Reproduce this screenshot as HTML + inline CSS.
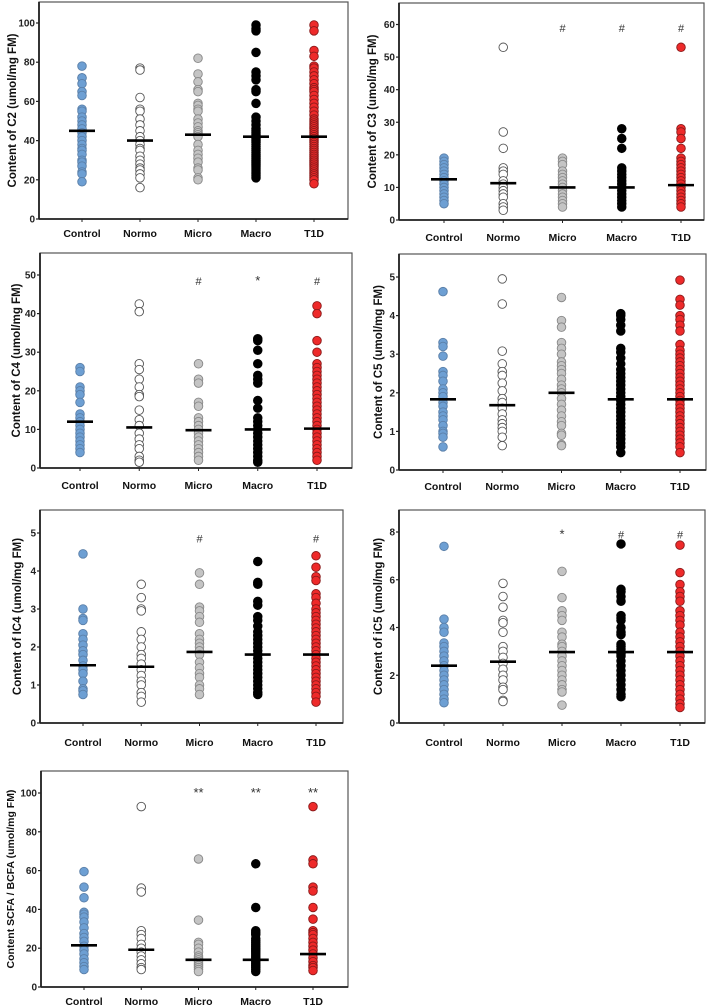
<!DOCTYPE html>
<html><head><meta charset="utf-8">
<style>
html,body{margin:0;padding:0;background:#fff;}
svg{display:block;font-family:"Liberation Sans",Arial,sans-serif;}
</style></head>
<body>
<svg id="fig" width="708" height="1006" viewBox="0 0 708 1006"></svg>
<script>
const categories = ["Control","Normo","Micro","Macro","T1D"];

const c2Values = [
 [78,72,72,69,65,63,56,55,52,50,48,46,44,42,40,38,36,35,33,30,29,27,24,23,19],
 [77,76,62,56,55,51,48,45,42,40,38,36,35,32,30,28,26,25,23,21,16],
 [82,74,70,66,65,59,58,56,55,51,49,47,45,44,43,42,38,35,33,31,29,26,25,21,20],
 [99,97,96,85,75,73,71,66,65,59,52,50,48,46,45,44,43,42,41,40,39,38,37,36,35,34,33,32,31,30,29,28,27,26,25,24,23,22,21],
 [99,96,86,83,78,77,75,73,71,69,67,66,65,63,61,59,57,55,53,51,50,49,48,47,46,45,44,43,42,41,40,39,38,37,36,35,34,33,32,31,30,29,28,27,26,25,24,23,22,21,20,18]];
const c2Medians = [45,40,43,42,42];
const c2Sig = ["","","","",""];

const c3Values = [
 [19,18,17,16,15,14,13,12,11,10,9,8,7,6,5],
 [53,27,22,16,15,14,12,11,10,9,8,7,5,4,3],
 [19,18,17,15,14,13,12,11,10,9,8,7,6,5,4],
 [28,25,22,16,15,14,13,12,11,10,9,8,7,6,5,4],
 [53,28,27,25,22,19,18,17,16,15,14,13,12,11,10,9,8,7,6,5,4]];
const c3Medians = [12.5,11.3,10,10,10.7];
const c3Sig = ["","","#","#","#"];

const c4Values = [
 [26,25,21,20,19,17,14,13,12,11,10,9,8,7,6,5,4],
 [42.5,40.5,27,25.5,23,21,19,18.5,15,12.5,11,9,7.5,6,5,3,2,1.5],
 [27,23,22,17,16,13,12,11,10,9,8,7,6,5,4,3,2],
 [33.5,33,30.5,27,24,23,22,17.5,15.5,13,12,11,10,9,8,7,6,5,4,3,2,1.5],
 [42,40,33,30,27,26,25,24,23,22,21,20,19,18,17,16,15,14,13,12,11,10,9,8,7,6,5,4,3,2]];
const c4Medians = [12,10.5,9.8,10,10.2];
const c4Sig = ["","","#","*","#"];

const c5Values = [
 [4.62,3.3,3.2,2.95,2.55,2.45,2.3,2.1,2.0,1.9,1.75,1.65,1.5,1.4,1.3,1.15,1.0,0.95,0.85,0.6],
 [4.95,4.3,3.08,2.75,2.55,2.45,2.25,2.05,1.85,1.75,1.6,1.45,1.3,1.2,1.1,1.0,0.85,0.63],
 [4.47,3.87,3.7,3.3,3.15,3.0,2.8,2.7,2.6,2.5,2.35,2.2,2.1,2.0,1.85,1.7,1.55,1.4,1.25,1.15,0.95,0.9,0.66,0.63],
 [4.05,4.0,3.9,3.75,3.6,3.15,3.05,2.9,2.75,2.6,2.5,2.4,2.3,2.2,2.1,2.0,1.9,1.8,1.7,1.6,1.5,1.4,1.3,1.2,1.1,1.0,0.9,0.8,0.7,0.6,0.45],
 [4.92,4.42,4.27,4.0,3.9,3.75,3.6,3.25,3.1,3.0,2.9,2.8,2.7,2.6,2.5,2.4,2.3,2.2,2.1,2.0,1.9,1.8,1.7,1.6,1.5,1.4,1.3,1.2,1.1,1.0,0.9,0.8,0.7,0.6,0.45]];
const c5Medians = [1.83,1.68,2.0,1.83,1.83];
const c5Sig = ["","","","",""];

const ic4Values = [
 [4.45,3.0,2.75,2.7,2.35,2.2,2.05,1.9,1.8,1.65,1.5,1.4,1.3,1.1,0.9,0.85,0.75],
 [3.65,3.3,3.0,2.95,2.4,2.2,2.0,1.8,1.7,1.55,1.4,1.25,1.1,1.0,0.8,0.7,0.55],
 [3.95,3.65,3.05,2.95,2.8,2.65,2.35,2.2,2.1,2.0,1.9,1.8,1.6,1.45,1.3,1.2,1.0,0.9,0.75],
 [4.25,3.7,3.65,3.2,3.1,2.8,2.7,2.55,2.4,2.3,2.2,2.1,2.0,1.9,1.8,1.7,1.6,1.5,1.4,1.3,1.2,1.1,1.0,0.9,0.8,0.75],
 [4.4,4.1,3.85,3.75,3.4,3.3,3.15,3.0,2.9,2.8,2.7,2.6,2.5,2.4,2.3,2.2,2.1,2.0,1.9,1.8,1.7,1.6,1.5,1.4,1.3,1.2,1.1,1.0,0.9,0.8,0.7,0.55]];
const ic4Medians = [1.52,1.48,1.87,1.8,1.8];
const ic4Sig = ["","","#","","#"];

const ic5Values = [
 [7.4,4.35,4.0,3.8,3.35,3.2,3.0,2.8,2.6,2.4,2.2,2.0,1.8,1.6,1.4,1.2,1.0,0.85],
 [5.85,5.3,4.85,4.3,4.2,3.8,3.2,3.0,2.75,2.5,2.25,2.0,1.8,1.5,1.4,0.95,0.9],
 [6.35,5.25,4.7,4.5,4.3,3.8,3.6,3.3,3.2,3.0,2.8,2.6,2.4,2.2,2.0,1.8,1.6,1.4,1.3,0.75],
 [7.5,5.6,5.5,5.3,5.1,4.5,4.4,4.3,4.0,3.8,3.7,3.3,3.2,3.1,3.0,2.9,2.8,2.6,2.4,2.2,2.0,1.8,1.6,1.4,1.2,1.1],
 [7.45,6.3,5.8,5.5,5.3,5.1,4.7,4.5,4.3,4.1,3.8,3.6,3.4,3.2,3.0,2.8,2.6,2.4,2.2,2.0,1.8,1.6,1.4,1.2,1.0,0.8,0.65]];
const ic5Medians = [2.4,2.57,2.97,2.97,2.97];
const ic5Sig = ["","","*","#","#"];

const ratioValues = [
 [59.5,51.5,46,38.5,37.5,36,33.5,30.5,27.5,25.5,23.5,21,19,17,14.5,12.5,10.5,9],
 [93,51,49,29,27,25,22,20,18,16,14,12,10,9],
 [66,34.5,23,22,20,18,16,15,14,13,12,11,10,9,8],
 [63.5,41,29,28,27,25,24,23,22,21,20,19,18,17,16,15,14,13,12,11,10,9,8],
 [93,65.5,63.5,51.5,49.5,41,35,29,28,27,25,23,21,19,17,15,13,11,10,8.5]];
const ratioMedians = [21.5,19.2,14,14,17];
const ratioSig = ["","","**","**","**"];

const fills = ["#6d9fd3","#ffffff","#c4c4c4","#000000","#ee2a2a"];
const strokes = ["#5a7fa8","#555555","#888888","#000000","#8a1a1a"];

const panels = [
 {name:"c2",title:"Content of C2 (umol/mg FM)",vals:c2Values,med:c2Medians,sig:c2Sig,sigV:0,max:100,step:20,ax:39,right:348,top:2,y0:219,yM:23,c0:82,c1:314,lab:233,tx:13,fs:11.5},
 {name:"c3",title:"Content of C3 (umol/mg FM)",vals:c3Values,med:c3Medians,sig:c3Sig,sigV:59,max:60,step:10,ax:399,right:704,top:3,y0:220,yM:24.5,c0:444,c1:681,lab:237,tx:373,fs:11.5},
 {name:"c4",title:"Content of C4 (umol/mg FM)",vals:c4Values,med:c4Medians,sig:c4Sig,sigV:48.5,max:50,step:10,ax:40,right:352,top:253,y0:468,yM:275,c0:80,c1:317,lab:485,tx:17,fs:11.5},
 {name:"c5",title:"Content of C5 (umol/mg FM)",vals:c5Values,med:c5Medians,sig:c5Sig,sigV:4.8,max:5,step:1,ax:399,right:706,top:254,y0:470,yM:277,c0:443,c1:680,lab:486,tx:379,fs:11.5},
 {name:"ic4",title:"Content of IC4 (umol/mg FM)",vals:ic4Values,med:ic4Medians,sig:ic4Sig,sigV:4.85,max:5,step:1,ax:40,right:343,top:510,y0:723,yM:533,c0:83,c1:316,lab:742,tx:18,fs:11.5},
 {name:"ic5",title:"Content of iC5 (umol/mg FM)",vals:ic5Values,med:ic5Medians,sig:ic5Sig,sigV:7.9,max:8,step:2,ax:399,right:705,top:510,y0:723,yM:532,c0:444,c1:680,lab:742,tx:379,fs:11.5},
 {name:"scfa-bcfa",title:"Content SCFA / BCFA (umol/mg FM)",vals:ratioValues,med:ratioMedians,sig:ratioSig,sigV:100,max:100,step:20,ax:41,right:348,top:771,y0:987,yM:793,c0:84,c1:313,lab:1001,tx:11,fs:10.5}
];

const NS = "http://www.w3.org/2000/svg";
const svg = document.getElementById("fig");
function mk(tag, attrs, parent){
  const e = document.createElementNS(NS, tag);
  for (const k in attrs) e.setAttribute(k, attrs[k]);
  parent.appendChild(e);
  return e;
}

panels.forEach(p=>{
  const g = mk("g",{},svg);
  
  
  const y = v => p.y0 - (v/p.max)*(p.y0-p.yM);
  const x = i => p.c0 + i*(p.c1-p.c0)/(categories.length-1);
  // frame
  const fr = mk("rect",{x:p.ax,y:p.top,width:p.right-p.ax,height:p.y0-p.top,fill:"none",stroke:"#555",'stroke-width':1.2},g);
  
  
  const xa = mk("line",{x1:p.ax,x2:p.right,y1:p.y0,y2:p.y0,stroke:"#222",'stroke-width':1.8},g);
  
  
  const ya = mk("line",{x1:p.ax,x2:p.ax,y1:p.top,y2:p.y0,stroke:"#222",'stroke-width':1.8},g);
  
  
  // ticks
  for (let v=0; v<=p.max+1e-9; v+=p.step){
    const tl = mk("line",{x1:p.ax-3,x2:p.ax,y1:y(v),y2:y(v),stroke:"#222",'stroke-width':1.2},g);
    
    
    const tt = mk("text",{x:p.ax-4,y:y(v)+3.5,'text-anchor':'end','font-size':10,'font-weight':'bold',fill:"#222"},g);
    tt.textContent = String(Math.round(v*100)/100);
    
    
  }
  // y title
  const cy = (p.top+p.y0)/2;
  const yt = mk("text",{x:p.tx,y:cy,'text-anchor':'middle','font-size':p.fs,'font-weight':'bold',fill:"#111",transform:`rotate(-90 ${p.tx} ${cy})`,'dominant-baseline':'middle'},g);
  yt.textContent = p.title;
  
  
  categories.forEach((c,i)=>{
    const xt = mk("line",{x1:x(i),x2:x(i),y1:p.y0,y2:p.y0+3,stroke:"#222",'stroke-width':1},g);
    
    
    const lt = mk("text",{x:x(i),y:p.lab+4,'text-anchor':'middle','font-size':10.5,'font-weight':'bold',fill:"#111"},g);
    lt.textContent = c;
    
    
    const sg = mk("g",{},g);
    
    
    p.vals[i].forEach(v=>{
      const pt = mk("circle",{cx:x(i),cy:y(v),r:4.3,fill:fills[i],stroke:strokes[i],'stroke-width':0.9},sg);
      
      
    });
    const ml = mk("line",{x1:x(i)-13,x2:x(i)+13,y1:y(p.med[i]),y2:y(p.med[i]),stroke:"#000",'stroke-width':2.6},g);
    
    
    if (p.sig[i]){
      const st = mk("text",{x:x(i),y:y(p.sigV)+4,'text-anchor':'middle','font-size':p.sig[i]==="#"?11:13,fill:"#333"},g);
      st.textContent = p.sig[i];
      
      
    }
  });
});
</script>
</body></html>
